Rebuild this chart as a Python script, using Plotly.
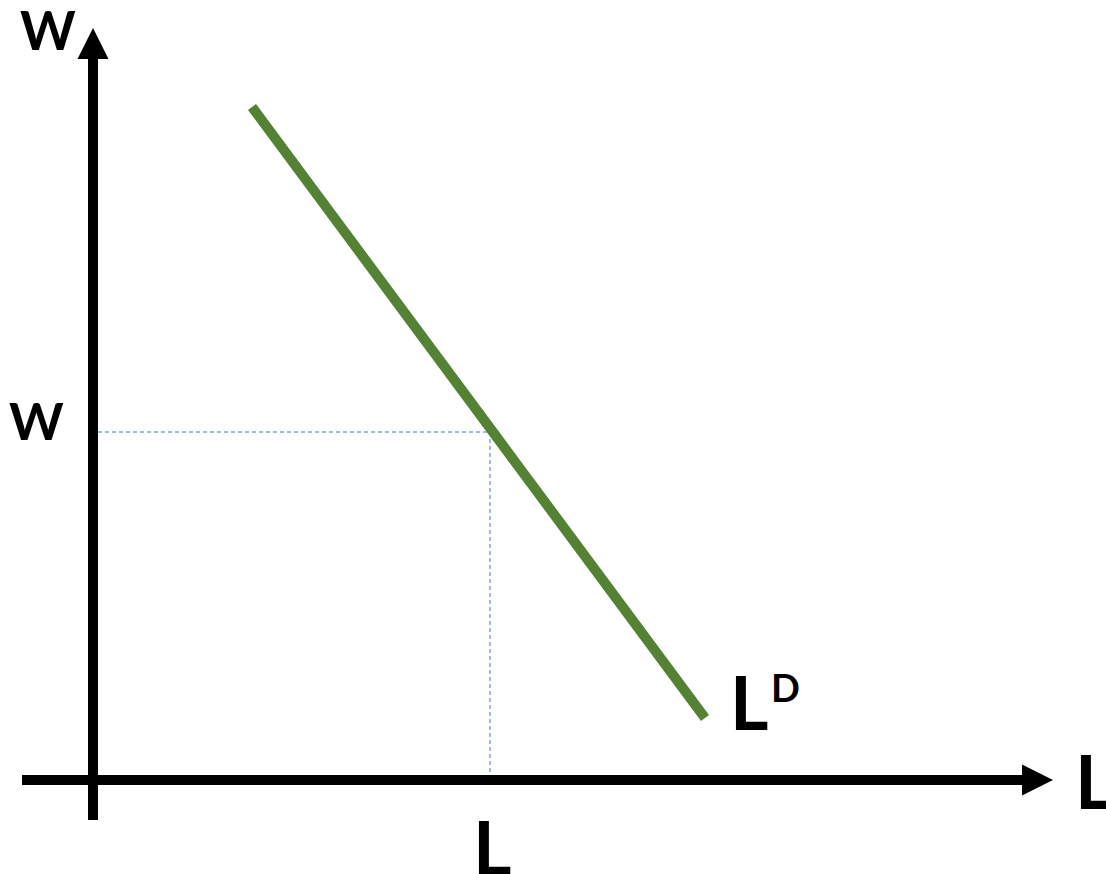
import plotly.graph_objects as go

# ---- data (abstract units; origin at the axes crossing) ----
demand_L = [1.59, 6.12]      # labour quantity along demand curve
demand_W = [6.73, 0.62]      # wage along demand curve
eq_L = 3.97                  # equilibrium labour
eq_W = 3.48                  # equilibrium wage
x_axis_ext = [-0.71, 9.60]   # horizontal axis start / arrow tip
y_axis_ext = [-0.40, 7.52]   # vertical axis start / arrow tip

GREEN = "#548235"
BLUE = "#4472C4"
FONT = "Lato"
HEAD_LEN = 0.31   # arrowhead length (axis units, styling)
HEAD_HW = 0.155   # arrowhead half width

fig = go.Figure()

# axes lines
fig.add_trace(go.Scatter(x=[x_axis_ext[0], x_axis_ext[1] - HEAD_LEN + 0.02], y=[0, 0],
                         mode="lines", line=dict(color="black", width=10),
                         hoverinfo="skip", showlegend=False))
fig.add_trace(go.Scatter(x=[0, 0], y=[y_axis_ext[0], y_axis_ext[1] - HEAD_LEN + 0.02],
                         mode="lines", line=dict(color="black", width=10),
                         hoverinfo="skip", showlegend=False))
# arrowheads
xt, yt = x_axis_ext[1], y_axis_ext[1]
fig.add_trace(go.Scatter(x=[xt, xt - HEAD_LEN, xt - HEAD_LEN, xt],
                         y=[0, HEAD_HW, -HEAD_HW, 0],
                         mode="lines", fill="toself", fillcolor="black",
                         line=dict(color="black", width=0),
                         hoverinfo="skip", showlegend=False))
fig.add_trace(go.Scatter(x=[0, HEAD_HW, -HEAD_HW, 0],
                         y=[yt, yt - HEAD_LEN, yt - HEAD_LEN, yt],
                         mode="lines", fill="toself", fillcolor="black",
                         line=dict(color="black", width=0),
                         hoverinfo="skip", showlegend=False))

# dotted guide lines
fig.add_trace(go.Scatter(x=[0.05, eq_L], y=[eq_W, eq_W], mode="lines",
                         line=dict(color=BLUE, width=1, dash="4px,3px"),
                         hoverinfo="skip", showlegend=False))
fig.add_trace(go.Scatter(x=[eq_L, eq_L], y=[eq_W, 0.05], mode="lines",
                         line=dict(color=BLUE, width=1, dash="4px,3px"),
                         hoverinfo="skip", showlegend=False))

# demand curve
fig.add_trace(go.Scatter(x=demand_L, y=demand_W, mode="lines",
                         line=dict(color=GREEN, width=10),
                         hoverinfo="skip", showlegend=False))


def label(text, x, y, size, xanchor="center", yanchor="middle"):
    return dict(x=x, y=y, xref="x", yref="y", text=text, showarrow=False,
                xanchor=xanchor, yanchor=yanchor, borderpad=0,
                font=dict(family=FONT, size=size, color="black", weight="bold"))

annotations = [
    label("W", -0.45, 7.51, 53),
    label("W", -0.57, eq_W + 0.12, 52),
    label("L", eq_L + 0.02, -0.66, 74),
    label("L", 10.01, 0, 74),
    label("L", 6.76, 0.33, 74, xanchor="right", yanchor="bottom"),
    label("D", 6.77, 0.69, 38, xanchor="left", yanchor="bottom"),
]

fig.update_layout(
    width=1106, height=874,
    margin=dict(l=0, r=0, t=0, b=0),
    paper_bgcolor="white", plot_bgcolor="white",
    xaxis=dict(range=[-0.93, 10.13], visible=False, fixedrange=True),
    yaxis=dict(range=[-0.94, 7.80], visible=False, fixedrange=True),
    annotations=annotations,
    showlegend=False,
)

fig.write_html("out.html", config={"displayModeBar": False},
               post_script="document.body.style.margin='0';document.body.style.overflow='hidden';")
